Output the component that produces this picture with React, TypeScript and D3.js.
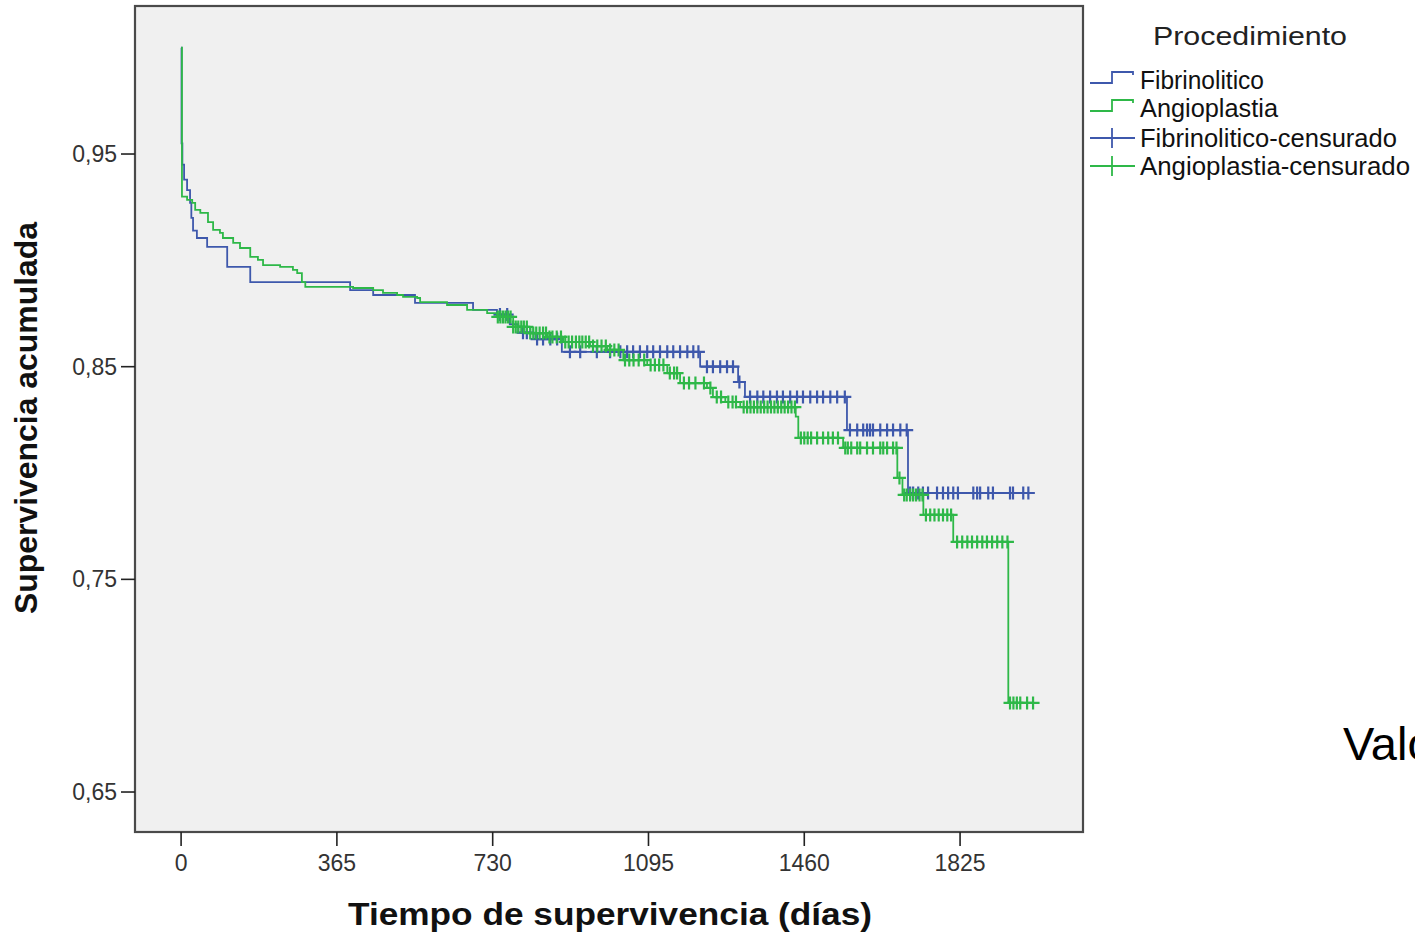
import React from "react";
import * as d3 from "d3";

// ---- Data ----
const xTicks = [0, 365, 730, 1095, 1460, 1825];
const yTicks = [0.65, 0.75, 0.85, 0.95];
const yTickLabels = ["0,65", "0,75", "0,85", "0,95"];

const seriesNames = ["Fibrinolitico", "Angioplastia"];

// Fibrinolitico: event days and cumulative survival after each event
const fibDays = [0, 1, 3, 7, 14, 21, 24, 28, 37, 61, 108, 162, 396, 450, 548, 684, 740, 770, 790, 830, 892, 1216, 1305, 1321, 1560, 1703];
const fibSurv = [1.0, 0.955, 0.945, 0.938, 0.933, 0.927, 0.92, 0.914, 0.9105, 0.9063, 0.8969, 0.8898, 0.886, 0.8837, 0.88, 0.8767, 0.8745, 0.87, 0.866, 0.863, 0.857, 0.85, 0.8428, 0.8358, 0.8202, 0.7906];
const fibCensored = [
  747, 764, 801, 810, 834, 848, 865, 881, 911, 935, 974, 1005, 1029, 1045, 1059, 1075, 1092, 1106, 1122,
  1139, 1153, 1169, 1186, 1200, 1212, 1232, 1246, 1263, 1279, 1293, 1308, 1333, 1350, 1364, 1380, 1396,
  1410, 1427, 1443, 1457, 1474, 1490, 1504, 1521, 1537, 1555, 1567, 1584, 1598, 1607, 1614, 1621, 1638,
  1654, 1668, 1685, 1700, 1708, 1715, 1727, 1738, 1750, 1771, 1785, 1797, 1809, 1820, 1856, 1865, 1872,
  1891, 1902, 1942, 1949, 1973, 1985,
];

// Angioplastia
const angDays = [0, 2, 14, 26, 33, 45, 63, 75, 91, 98, 122, 138, 162, 180, 192, 232, 262, 272, 283, 291, 403, 450, 473, 506, 520, 553, 560, 623, 670, 717, 740, 778, 818, 858, 895, 958, 998, 1036, 1092, 1139, 1169, 1232, 1246, 1275, 1310, 1440, 1446, 1551, 1678, 1690, 1739, 1809, 1938];
const angSurv = [1.0, 0.93, 0.9284, 0.927, 0.9237, 0.9223, 0.918, 0.9143, 0.9129, 0.9105, 0.9082, 0.9058, 0.9016, 0.9002, 0.8978, 0.8969, 0.8955, 0.894, 0.8898, 0.8875, 0.887, 0.886, 0.8847, 0.8837, 0.8828, 0.8823, 0.8804, 0.879, 0.8767, 0.8752, 0.8734, 0.8687, 0.8658, 0.864, 0.8616, 0.8597, 0.8579, 0.8531, 0.8508, 0.847, 0.8423, 0.84, 0.8357, 0.8334, 0.831, 0.8265, 0.8165, 0.8118, 0.7977, 0.7897, 0.7803, 0.7676, 0.6919];
const angCensored = [
  742, 748, 754, 760, 766, 772, 778, 784, 790, 797, 803, 810, 818, 825, 832, 840, 848, 855, 863, 870,
  880, 890, 900, 908, 916, 925, 933, 940, 948, 956, 965, 975, 985, 995, 1005, 1015, 1025, 1040, 1050,
  1060, 1072, 1085, 1100, 1110, 1120, 1130, 1145, 1155, 1162, 1178, 1190, 1205, 1225, 1240, 1255, 1265,
  1282, 1292, 1300, 1318, 1326, 1334, 1342, 1350, 1358, 1366, 1374, 1382, 1390, 1398, 1406, 1414, 1422,
  1430, 1438, 1452, 1460, 1468, 1476, 1490, 1504, 1516, 1527, 1539, 1556, 1562, 1570, 1584, 1591, 1607,
  1621, 1638, 1645, 1654, 1668, 1676, 1683, 1694, 1700, 1708, 1715, 1722, 1730, 1737, 1745, 1755, 1765,
  1775, 1785, 1795, 1804, 1818, 1830, 1842, 1853, 1865, 1877, 1888, 1900, 1912, 1924, 1936, 1942, 1950,
  1958, 1966, 1982, 1996,
];

const COLORS = ["#3E58AC", "#2EB848"];

const W = 1415;
const H = 934;
const PL = 135, PR = 1083, PT = 6, PB = 832;

function survAt(days: number[], surv: number[], d: number) {
  const i = d3.bisectRight(days, d) - 1;
  return surv[Math.max(0, i)];
}

export default function App() {
  const x = d3.scaleLinear().domain([-108, 2113]).range([PL, PR]);
  const y = d3.scaleLinear().domain([0.6312, 1.0196]).range([PB, PT]);

  const series = [
    { name: seriesNames[0], days: fibDays, surv: fibSurv, cens: fibCensored, color: COLORS[0] },
    { name: seriesNames[1], days: angDays, surv: angSurv, cens: angCensored, color: COLORS[1] },
  ];

  const line = d3
    .line<[number, number]>()
    .x((d) => x(d[0]))
    .y((d) => y(d[1]))
    .curve(d3.curveStepAfter);

  const mh = 6.5;
  const mw = 6.5;

  const legendRows = [
    { label: "Fibrinolitico", color: COLORS[0], kind: "step", cy: 80, len: 124 },
    { label: "Angioplastia", color: COLORS[1], kind: "step", cy: 108, len: 138 },
    { label: "Fibrinolitico-censurado", color: COLORS[0], kind: "cens", cy: 138, len: 257 },
    { label: "Angioplastia-censurado", color: COLORS[1], kind: "cens", cy: 166, len: 270 },
  ];

  return (
    <svg
      width={W}
      height={H}
      style={{ position: "absolute", left: 0, top: 0, background: "#fff" }}
      fontFamily="'Liberation Sans', Arial, sans-serif"
    >
      <defs>
        <clipPath id="plotClip">
          <rect x={PL + 1} y={PT + 1} width={PR - PL - 2} height={PB - PT - 2} />
        </clipPath>
      </defs>
      <rect x={0} y={0} width={W} height={H} fill="#ffffff" />
      <rect x={PL} y={PT} width={PR - PL} height={PB - PT} fill="#F0F0F0" stroke="#4a4a4a" strokeWidth={2.2} />

      <g clipPath="url(#plotClip)">
        {series.map((s, si) => {
          const last = Math.max(s.cens[s.cens.length - 1], s.days[s.days.length - 1]);
          const pts: [number, number][] = s.days.map((d, i) => [d, s.surv[i]] as [number, number]);
          pts.push([last, s.surv[s.surv.length - 1]]);
          return (
            <g key={s.name}>
              <path d={line(pts) || ""} fill="none" stroke={s.color} strokeWidth={1.8} />
              {s.cens.map((c, ci) => {
                const cx = x(c);
                const cy = y(survAt(s.days, s.surv, c));
                return (
                  <path
                    key={ci}
                    d={`M${cx - mw},${cy}H${cx + mw}M${cx},${cy - mh}V${cy + mh}`}
                    stroke={s.color}
                    strokeWidth={2.2}
                    fill="none"
                  />
                );
              })}
            </g>
          );
        })}
      </g>

      {/* Y axis ticks */}
      {yTicks.map((t, i) => (
        <g key={t}>
          <line x1={121} x2={PL} y1={y(t)} y2={y(t)} stroke="#222" strokeWidth={1.6} />
          <text x={117} y={y(t) + 8} textAnchor="end" fontSize={23} fill="#333">
            {yTickLabels[i]}
          </text>
        </g>
      ))}

      {/* X axis ticks */}
      {xTicks.map((t) => (
        <g key={t}>
          <line x1={x(t)} x2={x(t)} y1={PB} y2={PB + 14} stroke="#222" strokeWidth={1.6} />
          <text x={x(t)} y={871} textAnchor="middle" fontSize={23} fill="#333">
            {t}
          </text>
        </g>
      ))}

      {/* Axis titles */}
      <text
        x={610}
        y={925}
        textAnchor="middle"
        fontSize={32}
        fontWeight="bold"
        fill="#111"
        textLength={524}
        lengthAdjust="spacingAndGlyphs"
      >
        Tiempo de supervivencia (días)
      </text>
      <text
        transform={`translate(37,418) rotate(-90)`}
        textAnchor="middle"
        fontSize={31}
        fontWeight="bold"
        fill="#111"
        textLength={392}
        lengthAdjust="spacingAndGlyphs"
      >
        Supervivencia acumulada
      </text>

      {/* Legend */}
      <text x={1153} y={45} fontSize={26} fill="#222" textLength={194} lengthAdjust="spacingAndGlyphs">
        Procedimiento
      </text>
      {legendRows.map((r) => (
        <g key={r.label}>
          {r.kind === "step" ? (
            <path
              d={`M1090,${r.cy + 3}H1112V${r.cy - 8}H1133V${r.cy - 5}`}
              stroke={r.color}
              strokeWidth={1.8}
              fill="none"
            />
          ) : (
            <path
              d={`M1090,${r.cy}H1135M1112,${r.cy - 10}V${r.cy + 10}`}
              stroke={r.color}
              strokeWidth={1.8}
              fill="none"
            />
          )}
          <text x={1140} y={r.cy + 9} fontSize={25} fill="#111" textLength={r.len} lengthAdjust="spacingAndGlyphs">
            {r.label}
          </text>
        </g>
      ))}

      {/* Text cut off at the right edge, as in the reference */}
      <text x={1343} y={760} fontSize={47} fill="#000">
        Valor
      </text>
    </svg>
  );
}
